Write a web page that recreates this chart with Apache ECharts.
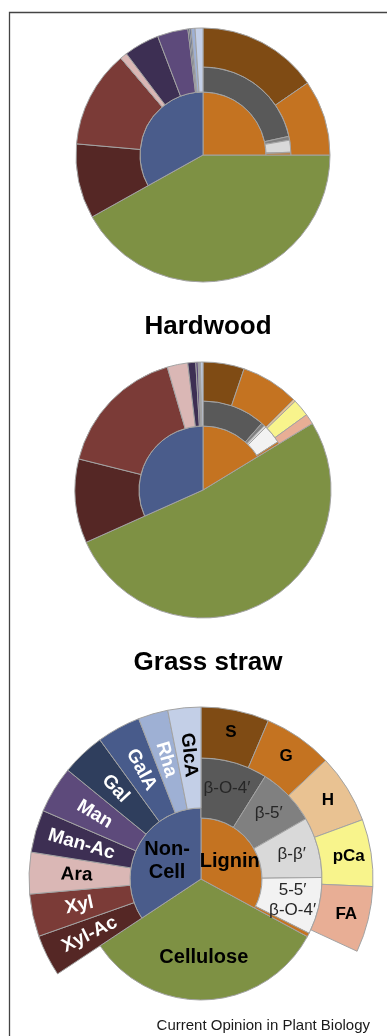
<!DOCTYPE html>
<html><head><meta charset="utf-8">
<script src="https://cdn.jsdelivr.net/npm/echarts@6/dist/echarts.min.js"></script>
<style>html,body{margin:0;padding:0;background:#fff}#c{width:387px;height:1036px}</style>
</head><body><div id="c"></div>
<script>
// ---- categories ----
const fractionNames = ['Lignin', 'Cellulose', 'Non-\nCell'];
const linkageNames = ['β-O-4′', 'β-5′', 'β-β′', '5-5′\nβ-O-4′'];
const monomerNames = ['S', 'G', 'H', 'pCa', 'FA'];
const sugarNames = ['Xyl-Ac', 'Xyl', 'Ara', 'Man-Ac', 'Man', 'Gal', 'GalA', 'Rha', 'GlcA'];

// ---- values (percent of whole) ----
const hardwoodFractions = [25.0, 41.9, 33.1];
const hardwoodLinkages = [21.6, 0.7, 2.2, 0.1];
const hardwoodMonomers = [15.4, 9.6, 0, 0, 0];
const hardwoodSugars = [9.5, 12.4, 0.9, 4.5, 3.9, 0.2, 0.2, 0.5, 1.0];

const grassFractions = [16.3, 52.0, 31.7];
const grassLinkages = [11.5, 0.6, 0.4, 3.4];
const grassMonomers = [5.2, 7.3, 0.3, 2.2, 1.3];
const grassSugars = [10.6, 16.6, 2.6, 1.0, 0.3, 0.1, 0.1, 0.1, 0.3];

const keyFractions = [32.9, 32.8, 34.3];
const keyLinkages = [8.9, 7.8, 8.1, 7.6];
const keyMonomers = [6.4, 6.5, 6.5, 6.3, 6.2];
const keySugars = [3.9, 4.0, 3.9, 4.0, 4.4, 4.1, 4.1, 2.8, 3.1];

const chartTitles = ['Hardwood', 'Grass straw'];
const creditText = 'Current Opinion in Plant Biology';

// ---- styles ----
const FONT = '"Liberation Sans", Arial, Helvetica, sans-serif';
const BORDER = '#a3a3a3';
const fractionColors = ['#c47321', '#7e9144', '#4a5c8b'];
const linkageColors = ['#595959', '#808080', '#d9d9d9', '#f2f2f2'];
const monomerColors = ['#7f4b14', '#c47321', '#e9c292', '#f8f48c', '#e8ae95'];
const sugarColors = ['#552725', '#7b3b37', '#dab7b5', '#3d2f53', '#5d4a7b', '#2f3e5d', '#485b8b', '#9eb0d4', '#c3cfe7'];
const sugarLabelColors = ['#fff', '#fff', '#000', '#fff', '#fff', '#fff', '#fff', '#fff', '#000'];

const HIDDEN = { color: 'rgba(0,0,0,0)', borderWidth: 0 };
const sum = a => a.reduce((s, v) => s + v, 0);

function donut(center, g, fr, lk, mono, sug, withLabels) {
  const [lig, cel, non] = fr;
  const base = {
    type: 'pie', center, startAngle: 90, clockwise: true, silent: true,
    animation: false, labelLine: { show: false }, emphasis: { disabled: true },
    itemStyle: { borderColor: BORDER, borderWidth: 1 },
    label: { show: false }
  };
  const lab = (extra) => withLabels ? Object.assign({ show: true, position: 'inside', formatter: '{b}', fontFamily: FONT, color: '#000' }, extra) : { show: false };
  const clean = arr => arr.filter(d => d.value > 0);
  const out = [];
  // cellulose (full wedge to its own radius)
  out.push(Object.assign({}, base, {
    radius: [0, g.cel],
    labelLayout: { dy: g.celShift || 0 },
    data: [
      { name: '', value: lig, itemStyle: HIDDEN },
      { name: fractionNames[1], value: cel, itemStyle: { color: fractionColors[1] },
        label: lab({ fontSize: 20, fontWeight: 'bold' }) },
      { name: '', value: non, itemStyle: HIDDEN }
    ]
  }));
  // lignin core
  out.push(Object.assign({}, base, {
    radius: [0, g.lig], z: 3,
    data: [
      { name: fractionNames[0], value: lig, itemStyle: { color: fractionColors[0] }, label: lab({ fontSize: 20, fontWeight: 'bold' }) },
      { name: '', value: cel + non, itemStyle: HIDDEN }
    ]
  }));
  // non-cellulosic core
  out.push(Object.assign({}, base, {
    radius: [0, g.non], z: 3,
    data: [
      { name: '', value: lig + cel, itemStyle: HIDDEN },
      { name: fractionNames[2], value: non, itemStyle: { color: fractionColors[2] }, label: lab({ fontSize: 20, fontWeight: 'bold', lineHeight: 23 }) }
    ]
  }));
  // linkage ring
  const lkData = lk.map((v, i) => ({ name: linkageNames[i], value: v, itemStyle: { color: linkageColors[i] },
    label: lab({ fontSize: 17, color: '#262626', lineHeight: 20 }) }));
  lkData.push({ name: '', value: Math.max(0, lig - sum(lk)), itemStyle: { color: fractionColors[0] } });
  lkData.push({ name: '', value: cel + non, itemStyle: HIDDEN });
  out.push(Object.assign({}, base, { radius: [g.lig, g.mid], z: 4, data: clean(lkData) }));
  // monomer ring
  const moData = mono.map((v, i) => ({ name: monomerNames[i], value: v, itemStyle: { color: monomerColors[i] },
    label: lab({ fontSize: 17, fontWeight: 'bold' }) }));
  moData.push({ name: '', value: Math.max(0, lig - sum(mono)), itemStyle: HIDDEN });
  moData.push({ name: '', value: cel + non, itemStyle: HIDDEN });
  out.push(Object.assign({}, base, { radius: [g.mid, g.outer], z: 4, data: clean(moData) }));
  // sugar ring
  const suData = [{ name: '', value: lig + cel + Math.max(0, non - sum(sug)), itemStyle: HIDDEN }];
  sug.forEach((v, i) => suData.push({ name: sugarNames[i], value: v, itemStyle: { color: sugarColors[i] },
    label: lab({ fontSize: 19, fontWeight: 'bold', rotate: 'radial', color: sugarLabelColors[i] }) }));
  out.push(Object.assign({}, base, { radius: [g.non, g.outer], z: 4, data: clean(suData) }));
  return out;
}

const series = [].concat(
  donut([203, 155], { cel: 127, lig: 63, non: 63, mid: 88, outer: 127 }, hardwoodFractions, hardwoodLinkages, hardwoodMonomers, hardwoodSugars, false),
  donut([203, 490], { cel: 128, lig: 64, non: 64, mid: 89, outer: 128 }, grassFractions, grassLinkages, grassMonomers, grassSugars, false),
  donut([201, 879], { cel: 121, lig: 61, non: 71, mid: 121, outer: 172, celShift: 15 }, keyFractions, keyLinkages, keyMonomers, keySugars, true)
);

const chart = echarts.init(document.getElementById('c'), null, { renderer: 'canvas' });
chart.setOption({
  animation: false,
  backgroundColor: '#fff',
  title: [
    { text: chartTitles[0], left: 203, top: 309, textAlign: 'center', textStyle: { fontFamily: FONT, fontSize: 26, fontWeight: 'bold', color: '#000' } },
    { text: chartTitles[1], left: 203, top: 645, textAlign: 'center', textStyle: { fontFamily: FONT, fontSize: 26, fontWeight: 'bold', color: '#000' } },
    { text: creditText, right: 12, top: 1013, textStyle: { fontFamily: FONT, fontSize: 15, fontWeight: 'normal', color: '#1a1a1a' } }
  ],
  graphic: [{ type: 'rect', silent: true, z: -10, shape: { x: 9.5, y: 12.5, width: 700, height: 1400 }, style: { fill: 'none', stroke: '#444', lineWidth: 1.3 } }],
  series
});
</script></body></html>
